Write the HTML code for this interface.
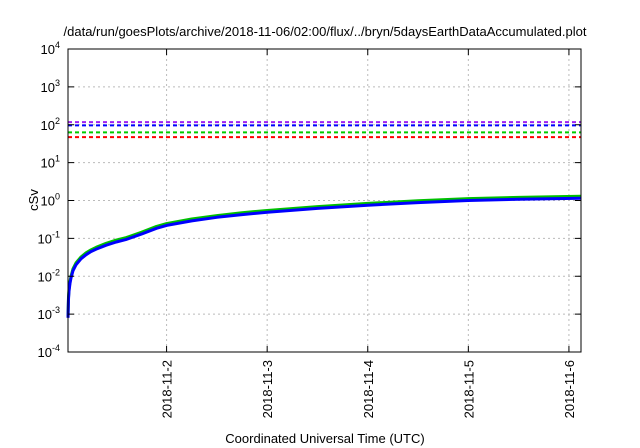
<!DOCTYPE html>
<html><head><meta charset="utf-8"><style>
html,body{margin:0;padding:0;background:#fff;}
svg{display:block;font-family:"Liberation Sans",sans-serif;}
</style></head><body>
<svg id="chart" width="640" height="448" viewBox="0 0 640 448">
<text x="325" y="36" font-size="13" text-anchor="middle" fill="#000">/data/run/goesPlots/archive/2018-11-06/02:00/flux/../bryn/5daysEarthDataAccumulated.plot</text>
<g id="grid"></g>
<g id="thresholds"></g>
<g id="series"></g>
<rect x="68" y="49" width="513" height="303" fill="none" stroke="#000" stroke-width="1"/>
<g id="axes"></g>
<text transform="translate(38,200) rotate(-90)" font-size="13" text-anchor="middle">cSv</text>
<text x="325" y="443" font-size="13" text-anchor="middle">Coordinated Universal Time (UTC)</text>
</svg>
<script>
const xTickDays = [2, 3, 4, 5, 6];
const xTickLabels = ["2018-11-2", "2018-11-3", "2018-11-4", "2018-11-5", "2018-11-6"];
const yTickExps = [-4, -3, -2, -1, 0, 1, 2, 3, 4];
const thresholdValues = [117, 96, 63, 47];
const thresholdColors = ["#a020f0", "#0000ff", "#00cc00", "#ff0000"];
const seriesDays = [1.02, 1.025, 1.03, 1.04, 1.05, 1.07, 1.1, 1.15, 1.2, 1.25, 1.3, 1.4, 1.5, 1.6, 1.75, 1.9, 2, 2.25, 2.5, 2.75, 3, 3.5, 4, 4.5, 5, 5.5, 6.12];
const blueValues = [0.0008, 0.0025, 0.004, 0.0065, 0.009, 0.014, 0.02, 0.029, 0.037, 0.045, 0.052, 0.066, 0.08, 0.094, 0.13, 0.185, 0.22, 0.29, 0.36, 0.425, 0.49, 0.62, 0.75, 0.88, 1.0, 1.08, 1.15];
const greenValues = [0.0009, 0.0028, 0.0045, 0.0073, 0.01, 0.0157, 0.0225, 0.0325, 0.0415, 0.05, 0.058, 0.074, 0.09, 0.105, 0.145, 0.207, 0.245, 0.325, 0.4, 0.475, 0.545, 0.69, 0.84, 0.98, 1.12, 1.21, 1.3];

const X0 = 68, X1 = 581, Y0 = 352, Y1 = 49;
const dMin = 1.02, dMax = 6.12;
function xs(d){ return X0 + (d - dMin) / (dMax - dMin) * (X1 - X0); }
function ys(v){ return Y0 - (Math.log10(v) + 4) / 8 * (Y0 - Y1); }
const NS = "http://www.w3.org/2000/svg";
function mk(tag, attrs, parent){ const e = document.createElementNS(NS, tag); for (const k in attrs) e.setAttribute(k, attrs[k]); parent.appendChild(e); return e; }
const grid = document.getElementById("grid"), axes = document.getElementById("axes");

yTickExps.forEach(function(p){
  const y = ys(Math.pow(10, p));
  if (p > -4 && p < 4) {
    const g = mk("line", {x1: X0, x2: X1, y1: y, y2: y, stroke: "#bbb", "stroke-width": 1, "stroke-dasharray": "2,3"}, grid);
    
    
  }
  const t1 = mk("line", {x1: X0, x2: X0 + 6, y1: y, y2: y, stroke: "#000"}, axes);
  
  
  const t2 = mk("line", {x1: X1 - 6, x2: X1, y1: y, y2: y, stroke: "#000"}, axes);
  
  
  const lab = mk("text", {x: 60, y: y + 5, "font-size": 13, "text-anchor": "end"}, axes);
  
  
  lab.textContent = "10";
  const sup = mk("tspan", {dy: -6, "font-size": 9}, lab);
  sup.textContent = String(p);
});

xTickDays.forEach(function(d, i){
  const x = xs(d);
  const g = mk("line", {x1: x, x2: x, y1: Y1, y2: Y0, stroke: "#bbb", "stroke-width": 1, "stroke-dasharray": "2,3"}, grid);
  
  
  const t1 = mk("line", {x1: x, x2: x, y1: Y0 - 6, y2: Y0, stroke: "#000"}, axes);
  
  
  const t2 = mk("line", {x1: x, x2: x, y1: Y1, y2: Y1 + 6, stroke: "#000"}, axes);
  
  
  const lab = mk("text", {transform: "translate(" + (x + 5) + ",360) rotate(-90)", "font-size": 13, "text-anchor": "end"}, axes);
  
  
  lab.textContent = xTickLabels[i];
});

const th = document.getElementById("thresholds");
thresholdValues.forEach(function(v, i){
  const y = ys(v);
  const l = mk("line", {x1: X0, x2: X1, y1: y, y2: y, stroke: thresholdColors[i], "stroke-width": 2, "stroke-dasharray": "4,3"}, th);
  
  
});

const sg = document.getElementById("series");
function path(vals){ return vals.map(function(v, i){ return (i ? "L" : "M") + xs(seriesDays[i]).toFixed(1) + "," + ys(v).toFixed(1); }).join(""); }
const pg = mk("path", {d: path(greenValues), fill: "none", stroke: "#00c000", "stroke-width": 3, "stroke-linejoin": "round"}, sg);


const pb = mk("path", {d: path(blueValues), fill: "none", stroke: "#0000ff", "stroke-width": 3, "stroke-linejoin": "round"}, sg);


</script>
</body></html>
